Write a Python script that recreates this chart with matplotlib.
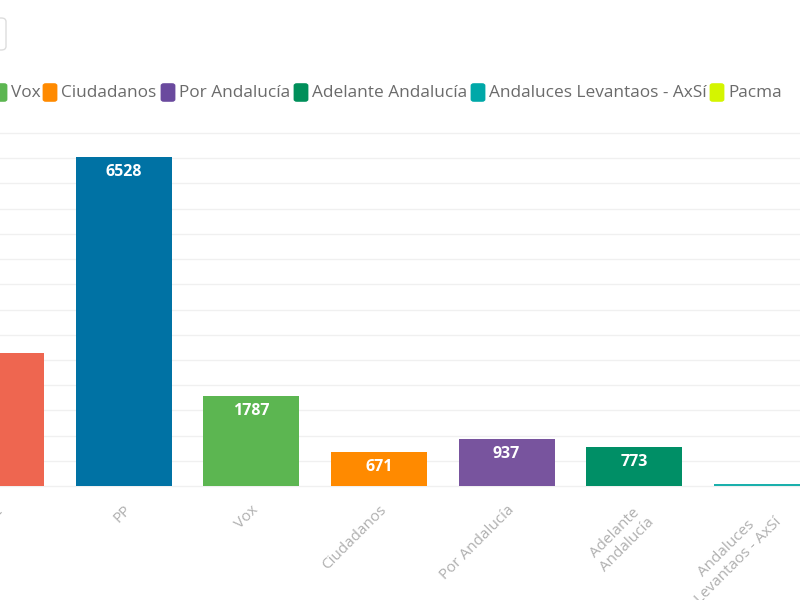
import matplotlib
matplotlib.use("Agg")
import matplotlib.pyplot as plt
from matplotlib.patches import FancyBboxPatch

# Datos
partidos = ["PSOE", "PP", "Vox", "Ciudadanos", "Por Andalucía", "Adelante\nAndalucía", "Andaluces\nLevantaos - AxSí"]
votos = [2638, 6528, 1787, 671, 937, 773, 45]
etiquetas = ["2638", "6528", "1787", "671", "937", "773", ""]
colores = ["#EE6650", "#0072A4", "#5CB651", "#FF8A00", "#78549E", "#008F66", "#1BB0AC"]
leyenda = ["Vox", "Ciudadanos", "Por Andalucía", "Adelante Andalucía", "Andaluces Levantaos - AxSí", "Pacma"]
leyenda_colores = ["#5CB651", "#FF8A00", "#6A4A9E", "#008F5A", "#00A8A8", "#D4F500"]
leyenda_x = [-7, 43, 161, 294, 471, 710]
ticks_y = list(range(0, 7001, 500))

plt.rcParams["font.family"] = ["Open Sans", "DejaVu Sans"]

fig = plt.figure(figsize=(8, 6), dpi=100)
ax = fig.add_axes([0, 0, 1, 1])

# Escalas: eje a pixeles de la imagen
paso = 127.7
x0 = 123.5 - paso
ax.set_xlim((0 - x0) / paso, (800 - x0) / paso)
px_y = 353 / 7000
ax.set_ylim(-(600 - 486) / px_y, 486 / px_y)

ax.bar(range(len(votos)), votos, width=96 / paso, color=colores, zorder=3)

for i, v in enumerate(votos):
    if etiquetas[i]:
        ax.annotate(etiquetas[i], (i, v), xytext=(0, -5), textcoords="offset points",
                    ha="center", va="top", color="white", fontsize=11.5, fontweight="bold", zorder=4)

for y in ticks_y:
    ax.axhline(y, color="#F0F0F0", lw=1, zorder=1)

for i, nombre in enumerate(partidos):
    ax.annotate(nombre, (i, 0), xytext=(0, -12), textcoords="offset points", rotation=45,
                ha="right", va="top", rotation_mode="anchor", color="#B0B0B0",
                fontsize=11, multialignment="center", annotation_clip=False)

for spine in ax.spines.values():
    spine.set_visible(False)
ax.set_xticks([])
ax.set_yticks([])

# Leyenda y boton, en pixeles de la imagen
def px(x, y):
    return x / 800, 1 - y / 600

for nombre, color, x in zip(leyenda, leyenda_colores, leyenda_x):
    xp, yp = px(x + 2, 100)
    fig.add_artist(FancyBboxPatch((xp, yp), 10 / 800, 15 / 600, boxstyle="round,pad=0.003,rounding_size=0.004",
                                  transform=fig.transFigure, fc=color, ec="none"))
    fig.text(*px(x + 18, 93), nombre, color="#6B6B6B", fontsize=12.4, va="center", ha="left")

xp, yp = px(-20, 50)
fig.add_artist(FancyBboxPatch((xp, yp), 26 / 800, 32 / 600, boxstyle="round,pad=0,rounding_size=0.006",
                              transform=fig.transFigure, fc="white", ec="#DDDDDD", lw=1))

fig.savefig("out.png", dpi=100)
